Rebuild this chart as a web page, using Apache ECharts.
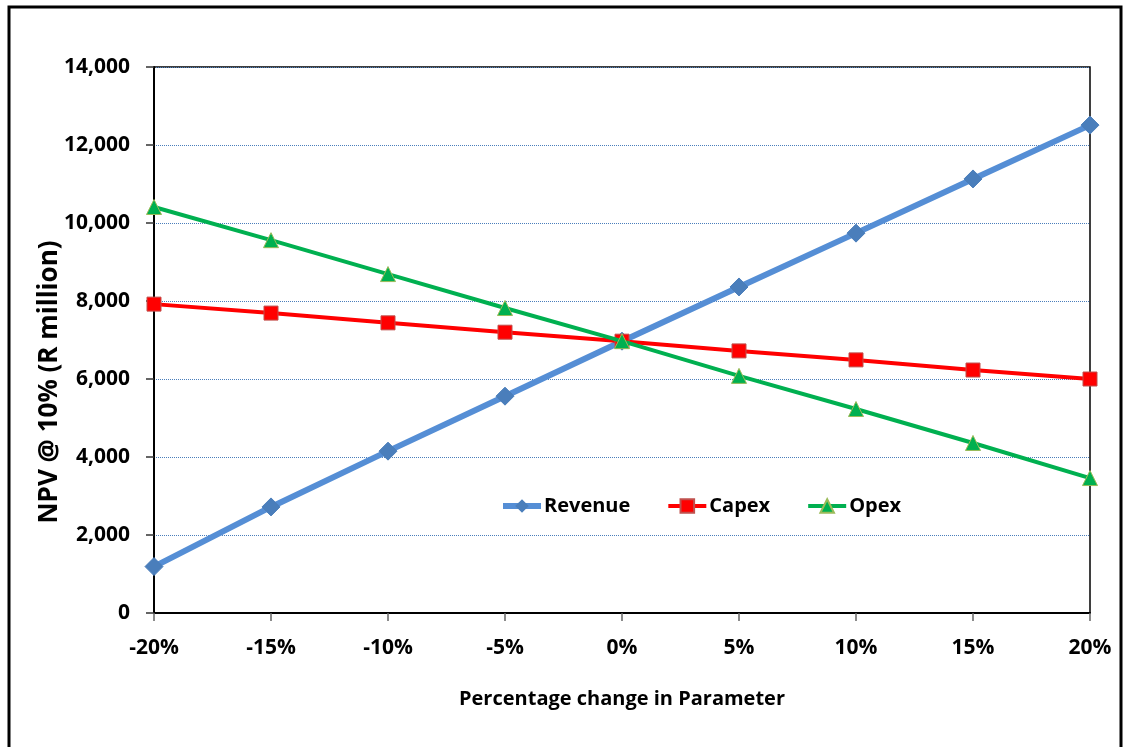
<!DOCTYPE html>
<html>
<head>
<meta charset="utf-8">
<script src="https://cdn.jsdelivr.net/npm/echarts@6/dist/echarts.min.js"></script>
<style>
  html, body { margin: 0; padding: 0; background: #fff; }
  #chart { width: 1123px; height: 747px; }
</style>
</head>
<body>
<div id="chart"></div>
<script>
// Sensitivity of NPV @ 10% to changes in each parameter
const changes = ['-20%', '-15%', '-10%', '-5%', '0%', '5%', '10%', '15%', '20%'];
const revenue = [1190, 2720, 4150, 5560, 6970, 8360, 9740, 11130, 12510];
const capex   = [7920, 7690, 7440, 7200, 6970, 6720, 6490, 6230, 6000];
const opex    = [10410, 9560, 8690, 7820, 6970, 6080, 5230, 4360, 3460];

const FONT = '"Open Sans", "DejaVu Sans", sans-serif';

const chart = echarts.init(document.getElementById('chart'), null, { renderer: 'canvas' });

chart.setOption({
  animation: false,
  backgroundColor: '#ffffff',
  graphic: [
    {
      // outer chart frame
      type: 'rect',
      shape: { x: 9, y: 7, width: 1112, height: 760 },
      style: { fill: 'none', stroke: '#000', lineWidth: 3 },
      z: 100
    },
    {
      // vertical axis title
      type: 'text',
      x: 50, y: 382,
      rotation: Math.PI / 2,
      style: {
        text: 'NPV @ 10% (R million)',
        fontFamily: FONT, fontWeight: 'bold', fontSize: 26, fill: '#000',
        align: 'center', verticalAlign: 'middle'
      }
    }
  ],
  grid: {
    left: 154, right: 33, top: 67, bottom: 134,
    show: true, borderColor: '#000', borderWidth: 1.5
  },
  legend: {
    left: 500, top: 496, padding: 0,
    itemWidth: 38, itemHeight: 17, itemGap: 36,
    textStyle: { fontFamily: FONT, fontWeight: 'bold', fontSize: 20, color: '#000', padding: [0, 0, 0, -2] },
    lineStyle: { width: 'inherit' },
    data: ['Revenue', 'Capex', 'Opex']
  },
  xAxis: {
    type: 'category',
    data: changes,
    boundaryGap: false,
    name: 'Percentage change in Parameter',
    nameLocation: 'middle',
    nameGap: 76,
    nameTextStyle: { fontFamily: FONT, fontWeight: 'bold', fontSize: 20, color: '#000' },
    axisLine: { lineStyle: { color: '#000', width: 2 } },
    axisTick: { show: true, alignWithLabel: true, length: 8, lineStyle: { color: '#666', width: 1.5 } },
    axisLabel: { margin: 25, fontFamily: FONT, fontWeight: 'bold', fontSize: 21, color: '#000' },
    splitLine: { show: false }
  },
  yAxis: {
    type: 'value',
    min: 0, max: 14000, interval: 2000,
    axisLine: { show: true, lineStyle: { color: '#000', width: 2 } },
    axisTick: { show: true, length: 8, lineStyle: { color: '#333', width: 1.5 } },
    axisLabel: {
      margin: 24, fontFamily: FONT, fontWeight: 'bold', fontSize: 21, color: '#000',
      formatter: v => v.toLocaleString('en-US')
    },
    splitLine: { show: true, lineStyle: { color: '#4a7ebb', type: 'dotted', width: 1 } }
  },
  series: [
    {
      name: 'Revenue', type: 'line', data: revenue,
      symbol: 'diamond', symbolSize: 18,
      lineStyle: { color: '#558ed5', width: 6 },
      itemStyle: { color: '#4a7ebb', borderColor: '#4a7ebb' },
      z: 2
    },
    {
      name: 'Capex', type: 'line', data: capex,
      symbol: 'rect', symbolSize: 14,
      lineStyle: { color: '#ff0000', width: 4 },
      itemStyle: { color: '#ff0000', borderColor: '#c0504d', borderWidth: 1 },
      z: 3
    },
    {
      name: 'Opex', type: 'line', data: opex,
      symbol: 'triangle', symbolSize: 15,
      lineStyle: { color: '#00b050', width: 4 },
      itemStyle: { color: '#00b050', borderColor: '#9bbb59', borderWidth: 1 },
      z: 4
    }
  ]
});
</script>
</body>
</html>
